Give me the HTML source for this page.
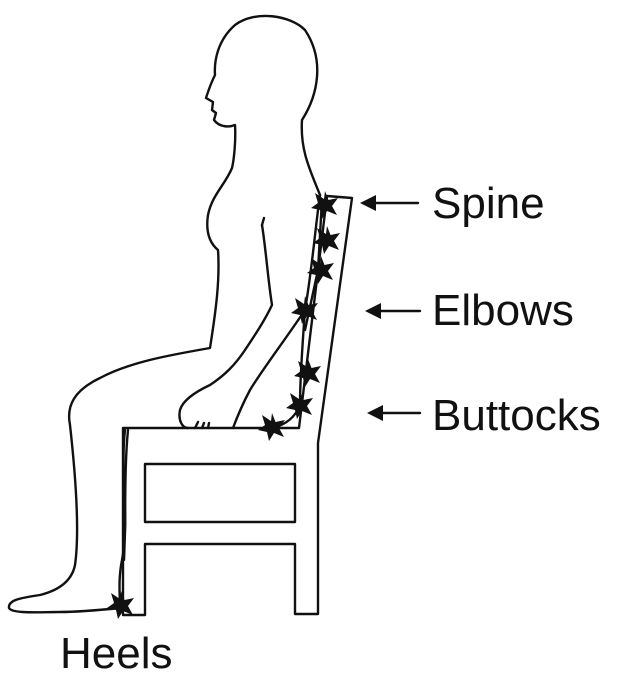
<!DOCTYPE html>
<html><head><style>
body{margin:0;background:#fff}
svg{display:block}
text{font-family:"Liberation Sans",sans-serif;font-size:44px;fill:#111}
</style></head><body>
<svg width="625" height="695" viewBox="0 0 625 695" xmlns="http://www.w3.org/2000/svg">
<defs>
<polygon id="st" points="0,-14 3.5,-5 13,-7 7,1 12,10 2,6 -3,14 -5,5 -14,3 -7,-2 -10,-12 -1,-6" fill="#111"/>
</defs>
<g fill="none" stroke="#111" stroke-width="2.4" stroke-linejoin="round" stroke-linecap="round">
<path d="M123,428 L299,428 L327,196 L352,198 L318,443 L318,614 L295,614 L295,544 L145,544 L145,615 L123,615 Z"/>
<rect x="145" y="464" width="150" height="58"/>
<path d="M320,195 C310,170 300,150 302,120 C318,95 325,60 305,30 C290,15 255,10 235,25 C218,40 214,60 215,75 C210,85 208,92 206,98 L213,102 L212,110 L216,113 L214,120 C220,128 230,127 235,125 C236,140 234,160 232,168 C225,185 212,195 208,215 C205,235 212,245 218,250 C220,280 216,310 210,348 C170,355 130,362 100,378 C75,390 66,405 70,425 C75,470 80,530 75,565 C72,580 60,590 40,595 C20,598 8,600 9,608 C12,614 40,612 60,612 C80,612 100,610 120,608"/>
<path d="M262,225 C266,250 268,280 272,305 C265,320 255,335 245,350 C235,365 225,375 210,385 C195,392 183,400 180,410 C178,420 182,428 188,428"/>
<path d="M262,225 L264,218"/>
<path d="M305,310 C285,340 262,370 250,390 C242,405 236,420 233,428"/>
<path d="M320,195 C315,230 312,270 305,310 C302,350 300,390 300,405 C295,418 285,425 272,428"/>
<path d="M322,200 L318,270 L305,330"/>
<path d="M125,430 C120,470 130,520 122,560 C118,580 120,595 120,608"/>
<path d="M128,430 C124,470 126,520 124,560"/>
<path d="M195,428 l3,-6 M202,428 l2,-5 M208,428 l1,-5"/>
<path d="M365,203 L418,203 M370,311 L420,311 M372,413 L420,413"/>
</g>
<g fill="#111">
<polygon points="360,203 376,195 376,211"/>
<polygon points="365,311 381,303 381,319"/>
<polygon points="367,413 383,405 383,421"/>
<use href="#st" x="325" y="205"/>
<use href="#st" x="327" y="240"/>
<use href="#st" x="321" y="270"/>
<use href="#st" x="305" y="310"/>
<use href="#st" x="308" y="373"/>
<use href="#st" x="300" y="405"/>
<use href="#st" x="272" y="427"/>
<use href="#st" x="121" y="605"/>
</g>
<text x="432" y="218">Spine</text>
<text x="432" y="325">Elbows</text>
<text x="432" y="430">Buttocks</text>
<text x="60" y="668">Heels</text>
</svg>
</body></html>
